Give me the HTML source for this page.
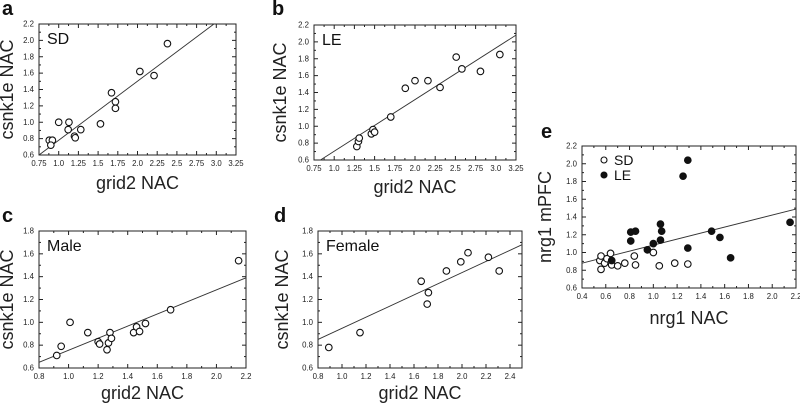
<!DOCTYPE html>
<html><head><meta charset="utf-8"><style>
body{margin:0;background:#fff;}
svg{display:block;font-family:"Liberation Sans",Arial,sans-serif;}
</style></head><body>
<svg id="fig" width="800" height="403"></svg>
<script>
// Panel a data (SD)
const aX=[0.88,0.92,0.90,1.00,1.13,1.12,1.20,1.21,1.28,1.53,1.67,1.72,1.72,2.03,2.21,2.38];
const aY=[0.78,0.78,0.72,1.00,1.00,0.91,0.83,0.81,0.91,0.98,1.36,1.25,1.17,1.62,1.57,1.96];
const aLine=[[0.75,0.6],[2.97,2.2]];
// Panel b data (LE)
const bX=[1.28,1.30,1.31,1.46,1.48,1.50,1.70,1.88,2.00,2.16,2.31,2.51,2.58,2.81,3.05];
const bY=[0.76,0.82,0.86,0.91,0.96,0.93,1.11,1.45,1.54,1.54,1.46,1.82,1.68,1.65,1.85];
const bLine=[[0.83,0.6],[3.25,2.08]];
// Panel c data (Male)
const cX=[0.92,0.95,1.01,1.13,1.20,1.21,1.26,1.27,1.28,1.29,1.44,1.46,1.48,1.52,1.69,2.15];
const cY=[0.71,0.79,1.00,0.91,0.83,0.81,0.76,0.82,0.91,0.86,0.91,0.96,0.92,0.99,1.11,1.54];
const cLine=[[0.8,0.65],[2.2,1.39]];
// Panel d data (Female)
const dX=[0.89,1.15,1.66,1.72,1.71,1.87,1.99,2.05,2.22,2.31];
const dY=[0.78,0.91,1.36,1.26,1.16,1.45,1.53,1.61,1.57,1.45];
const dLine=[[0.8,0.85],[2.5,1.68]];
// Panel e data
const eSDX=[0.55,0.56,0.56,0.59,0.61,0.64,0.65,0.70,0.76,0.84,0.85,1.00,1.05,1.18,1.29];
const eSDY=[0.91,0.96,0.81,0.88,0.93,0.99,0.86,0.85,0.88,0.96,0.86,1.00,0.85,0.88,0.87];
const eLEX=[0.65,0.81,0.81,0.85,0.95,1.00,1.06,1.07,1.06,1.29,1.25,1.29,1.49,1.56,1.65,2.15];
const eLEY=[0.91,1.23,1.13,1.24,1.03,1.10,1.32,1.24,1.14,1.05,1.86,2.04,1.24,1.17,0.94,1.34];
const eLine=[[0.4,0.88],[2.2,1.49]];
const xTicksA=["0.75","1.0","1.25","1.5","1.75","2.0","2.25","2.5","2.75","3.0","3.25"];
const xTicksC=["0.8","1.0","1.2","1.4","1.6","1.8","2.0","2.2"];
const xTicksD=["0.8","1.0","1.2","1.4","1.6","1.8","2.0","2.2","2.4"];
const xTicksE=["0.4","0.6","0.8","1.0","1.2","1.4","1.6","1.8","2.0","2.2"];
const yTicks16=["0.6","0.8","1.0","1.2","1.4","1.6","1.8","2.0","2.2"];
const yTicks12=["0.6","0.8","1.0","1.2","1.4","1.6","1.8"];

const NS="http://www.w3.org/2000/svg";
const svg=document.getElementById('fig');
function mk(tag,attrs,parent){const e=document.createElementNS(NS,tag);for(const k in attrs)e.setAttribute(k,attrs[k]);(parent||svg).appendChild(e);return e;}

function panel(p){
  const g=mk('g',{});
  
  
  const sx=v=>p.L+(v-p.xmin)/(p.xmax-p.xmin)*(p.R-p.L);
  const sy=v=>p.B-(v-p.ymin)/(p.ymax-p.ymin)*(p.B-p.T);
  const fr=mk('rect',{x:p.L,y:p.T,width:p.R-p.L,height:p.B-p.T,fill:'none',stroke:'#222','stroke-width':1},g);
  
  
  p.xt.forEach((t,i)=>{
    const v=parseFloat(t),x=sx(v);
    mk('line',{x1:x,x2:x,y1:p.B,y2:p.B-4,stroke:'#222'},g);
    mk('line',{x1:x,x2:x,y1:p.T,y2:p.T+4,stroke:'#222'},g);
    if(i<p.xt.length-1){const xm=sx(v+(parseFloat(p.xt[1])-parseFloat(p.xt[0]))/2);
      mk('line',{x1:xm,x2:xm,y1:p.B,y2:p.B-2,stroke:'#222'},g);
      mk('line',{x1:xm,x2:xm,y1:p.T,y2:p.T+2,stroke:'#222'},g);}
    const tx=mk('text',{x:x,y:p.B+11,'font-size':7.8,'text-anchor':'middle',fill:'#222'},g);
    tx.textContent=t;
    
    
  });
  p.yt.forEach((t,i)=>{
    const v=parseFloat(t),y=sy(v);
    mk('line',{x1:p.L,x2:p.L+4,y1:y,y2:y,stroke:'#222'},g);
    mk('line',{x1:p.R,x2:p.R-4,y1:y,y2:y,stroke:'#222'},g);
    if(i<p.yt.length-1){const ym=sy(v+0.1);
      mk('line',{x1:p.L,x2:p.L+2,y1:ym,y2:ym,stroke:'#222'},g);
      mk('line',{x1:p.R,x2:p.R-2,y1:ym,y2:ym,stroke:'#222'},g);}
    const ty=mk('text',{x:p.L-5,y:y+2.5,'font-size':7.8,'text-anchor':'end',fill:'#222'},g);
    ty.textContent=t;
    
    
  });
  const ln=mk('line',{x1:sx(p.line[0][0]),y1:sy(p.line[0][1]),x2:sx(p.line[1][0]),y2:sy(p.line[1][1]),stroke:'#333','stroke-width':0.9},g);
  
  
  p.series.forEach(s=>{
    s.x.forEach((xv,i)=>{
      const c=mk('circle',{cx:sx(xv),cy:sy(s.y[i]),r:3.3,fill:s.fill,stroke:'#111','stroke-width':1.1},g);
      
      
    });
  });
  const xl=mk('text',{x:(p.L+p.R)/2,y:p.xlY,'font-size':18,'text-anchor':'middle',fill:'#222'},g);
  xl.textContent=p.xlab;
  
  
  const yl=mk('text',{x:0,y:0,'font-size':18,'text-anchor':'middle',fill:'#222',transform:`translate(${p.ylX},${(p.T+p.B)/2}) rotate(-90)`},g);
  yl.textContent=p.ylab;
  
  
  const pl=mk('text',{x:p.letter[0],y:p.letter[1],'font-size':20,'font-weight':'bold',fill:'#111'},g);
  pl.textContent=p.id;
  
  
  if(p.tag){const tg=mk('text',{x:p.L+8,y:p.T+20,'font-size':16,fill:'#111'},g);
    tg.textContent=p.tag;
    
    }
  return {g,sx,sy};
}
panel({id:'a',L:39,R:236,T:24,B:155,xmin:0.75,xmax:3.25,ymin:0.6,ymax:2.2,xt:xTicksA,yt:yTicks16,line:aLine,
  series:[{x:aX,y:aY,fill:'#fff',name:'sd'}],xlab:'grid2 NAC',ylab:'csnk1e NAC',xlY:189,ylX:13,letter:[2,15],tag:'SD'});
panel({id:'b',L:314,R:516,T:25,B:160,xmin:0.75,xmax:3.25,ymin:0.6,ymax:2.2,xt:xTicksA,yt:yTicks16,line:bLine,
  series:[{x:bX,y:bY,fill:'#fff',name:'le'}],xlab:'grid2 NAC',ylab:'csnk1e NAC',xlY:193,ylX:286,letter:[272,15],tag:'LE'});
panel({id:'c',L:39,R:246,T:231,B:368,xmin:0.8,xmax:2.2,ymin:0.6,ymax:1.8,xt:xTicksC,yt:yTicks12,line:cLine,
  series:[{x:cX,y:cY,fill:'#fff',name:'male'}],xlab:'grid2 NAC',ylab:'csnk1e NAC',xlY:399,ylX:13,letter:[2,222],tag:'Male'});
panel({id:'d',L:318,R:522,T:231,B:368,xmin:0.8,xmax:2.5,ymin:0.6,ymax:1.8,xt:xTicksD,yt:yTicks12,line:dLine,
  series:[{x:dX,y:dY,fill:'#fff',name:'female'}],xlab:'grid2 NAC',ylab:'csnk1e NAC',xlY:399,ylX:288,letter:[274,222],tag:'Female'});
const e=panel({id:'e',L:582,R:796,T:146,B:288,xmin:0.4,xmax:2.2,ymin:0.6,ymax:2.2,xt:xTicksE,yt:yTicks16,line:eLine,
  series:[{x:eSDX,y:eSDY,fill:'#fff',name:'sd'},{x:eLEX,y:eLEY,fill:'#111',name:'le'}],xlab:'nrg1 NAC',ylab:'nrg1 mPFC',xlY:324,ylX:551,letter:[541,138]});
const lg=mk('g',{});


[['SD','#fff',160],['LE','#111',175]].forEach(([t,f,y])=>{
  mk('circle',{cx:604,cy:y,r:3,fill:f,stroke:'#111','stroke-width':1.1},lg);
  const tt=mk('text',{x:614,y:y+5,'font-size':14,fill:'#111'},lg);
  tt.textContent=t;
  
  
});
</script>
</body></html>
